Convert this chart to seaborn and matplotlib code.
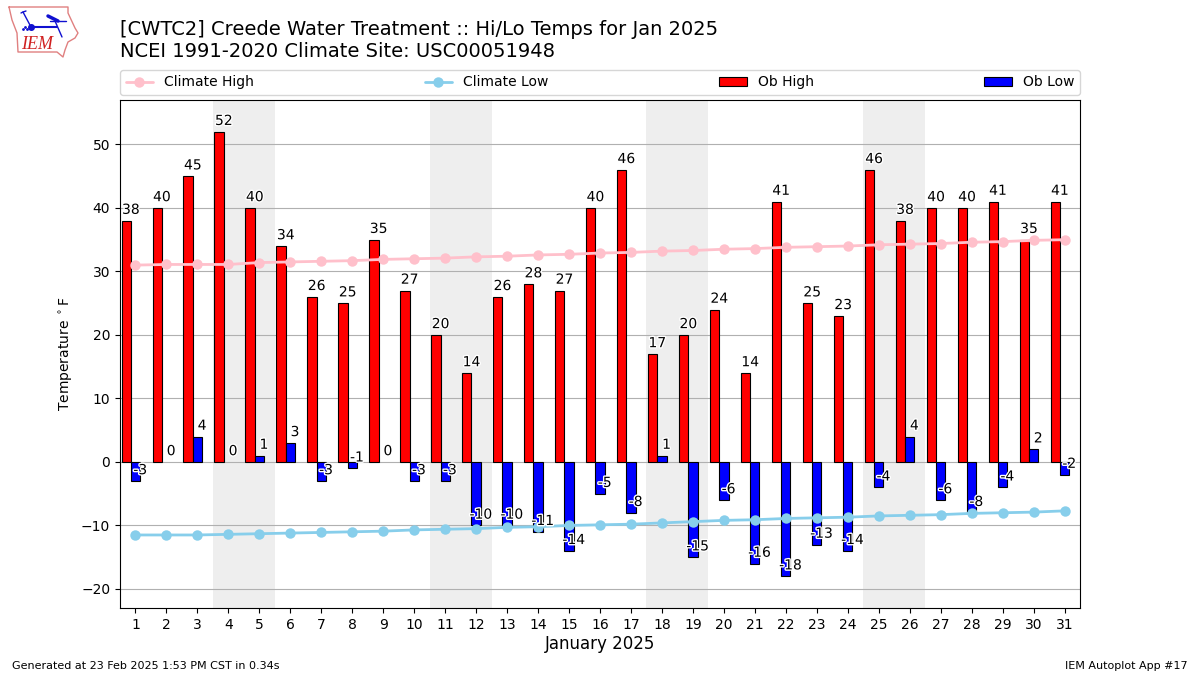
import matplotlib
matplotlib.use("Agg")
import matplotlib.pyplot as plt
import matplotlib.patheffects as pe
import numpy as np
import seaborn as sns

days = np.arange(1, 32)
ob_high = [38, 40, 45, 52, 40, 34, 26, 25, 35, 27, 20, 14, 26, 28, 27, 40,
           46, 17, 20, 24, 14, 41, 25, 23, 46, 38, 40, 40, 41, 35, 41]
ob_low = [-3, 0, 4, 0, 1, 3, -3, -1, 0, -3, -3, -10, -10, -11, -14, -5,
          -8, 1, -15, -6, -16, -18, -13, -14, -4, 4, -6, -8, -4, 2, -2]
climo_high = [31.0, 31.1, 31.1, 31.1, 31.4, 31.5, 31.6, 31.7, 31.9, 32.0, 32.1,
              32.3, 32.4, 32.6, 32.7, 32.9, 33.0, 33.2, 33.3, 33.5, 33.6, 33.8,
              33.9, 34.0, 34.2, 34.3, 34.4, 34.6, 34.7, 34.9, 35.0]
climo_low = [-11.5, -11.5, -11.5, -11.4, -11.3, -11.2, -11.1, -11.0, -10.9, -10.7,
             -10.6, -10.5, -10.3, -10.2, -10.0, -9.9, -9.8, -9.6, -9.4, -9.2, -9.1,
             -8.9, -8.8, -8.7, -8.5, -8.4, -8.3, -8.1, -8.0, -7.9, -7.7]
weekends = [(3.5, 5.5), (10.5, 12.5), (17.5, 19.5), (24.5, 26.5)]

sns.set_theme(style="white", rc={"axes.edgecolor": "black", "axes.linewidth": 0.8,
                                 "xtick.bottom": True, "ytick.left": True,
                                 "text.color": "black", "axes.labelcolor": "black",
                                 "xtick.color": "black", "ytick.color": "black"})
plt.rcParams["font.family"] = ["DejaVu Sans"]

fig = plt.figure(figsize=(12, 6.75), dpi=100)
ax = fig.add_axes([120 / 1200, 1 - 608 / 675, 960 / 1200, 508 / 675])

# weekend shading
for x0, x1 in weekends:
    ax.axvspan(x0, x1, color="#eeeeee", lw=0, zorder=0)
ax.yaxis.grid(True, color="#b0b0b0", lw=0.8, zorder=1)
ax.set_axisbelow(True)

sns.barplot(x=days - 0.3, y=ob_high, native_scale=True, width=0.3, color="red",
            saturation=1, edgecolor="black", linewidth=0.8, label="Ob High", ax=ax, zorder=2)
sns.barplot(x=days.astype(float), y=ob_low, native_scale=True, width=0.3, color="blue",
            saturation=1, edgecolor="black", linewidth=0.8, label="Ob Low", ax=ax, zorder=2)
# zero height bars should not leave a black line
for p in ax.patches:
    if p.get_height() == 0:
        p.set_linewidth(0)

sns.lineplot(x=days, y=climo_high, color="pink", marker="o", markersize=7.5, lw=2,
             markeredgewidth=0, label="Climate High", ax=ax, zorder=3, errorbar=None)
sns.lineplot(x=days, y=climo_low, color="skyblue", marker="o", markersize=7.5, lw=2,
             markeredgewidth=0, label="Climate Low", ax=ax, zorder=3, errorbar=None)

stroke = [pe.withStroke(linewidth=2, foreground="white")]
for d, hi, lo in zip(days, ob_high, ob_low):
    ax.text(d - 0.15, hi + 0.6, str(hi), ha="center", va="bottom", fontsize=10,
            path_effects=stroke, zorder=4)
    ax.text(d + 0.15, lo + 0.6, str(lo), ha="center", va="bottom", fontsize=10,
            path_effects=stroke, zorder=4)

ax.set_xlim(0.5, 31.5)
ax.set_ylim(-23, 57)
ax.set_xticks(days)
ax.set_xticklabels([str(d) for d in days], fontsize=10)
ax.set_yticks(np.arange(-20, 51, 10))
ax.tick_params(axis="y", labelsize=10, length=3.5, width=0.8)
ax.tick_params(axis="x", length=3.5, width=0.8)
ax.set_xlabel("January 2025", fontsize=12, labelpad=2.5)
ax.set_ylabel("Temperature $^\\circ$F", fontsize=10, labelpad=4)

handles, labels = ax.get_legend_handles_labels()
order = [labels.index(n) for n in ["Climate High", "Climate Low", "Ob High", "Ob Low"]]
ax.legend([handles[i] for i in order], [labels[i] for i in order], ncol=4, mode="expand",
          loc="lower left", bbox_to_anchor=(0, 1 + 5 / 508, 1, 0.05), borderaxespad=0, fontsize=10)

fig.text(120 / 1200, 1 - 29.4 / 675, "[CWTC2] Creede Water Treatment :: Hi/Lo Temps for Jan 2025",
         fontsize=14, va="center")
fig.text(120 / 1200, 1 - 51.4 / 675, "NCEI 1991-2020 Climate Site: USC00051948", fontsize=14, va="center")
fig.text(12 / 1200, 1 - 666 / 675, "Generated at 23 Feb 2025 1:53 PM CST in 0.34s", fontsize=8, va="center")
fig.text(1188 / 1200, 1 - 666 / 675, "IEM Autoplot App #17", fontsize=8, va="center", ha="right")

# rough IEM logo, drawn in pixel coordinates
logo = fig.add_axes([0, 1 - 60 / 675, 90 / 1200, 60 / 675])
logo.set_xlim(0, 90)
logo.set_ylim(60, 0)
logo.axis("off")
iowa_x = [9, 68, 68, 75, 78, 75, 68, 65, 63, 57, 18, 17, 12, 9]
iowa_y = [7, 7, 13, 28, 33, 38, 42, 50, 57, 52, 52, 33, 20, 7]
logo.plot(iowa_x, iowa_y, color="#e08080", lw=1)
logo.plot([31, 57], [27, 27], color="#1010d0", lw=1.5)
logo.plot([23, 31], [12, 27], color="#1010d0", lw=1)
logo.plot([21, 23, 26], [13, 12, 11], color="#1010d0", lw=1)
logo.plot([55, 62], [21, 37], color="#1010d0", lw=1)
logo.plot([50, 66], [21, 21], color="#1010d0", lw=1)
logo.plot([48, 58], [16, 21], color="#1010d0", lw=2.5)
logo.plot([31], [27], "o", color="#1010d0", ms=4)
logo.plot([23, 25, 27], [29, 27, 29], ".", color="#1010d0", ms=2)
logo.text(21, 53, "IEM", color="#d02020", fontsize=13, style="italic",
          family="Liberation Serif", va="bottom")

fig.savefig("out.png", dpi=100)
